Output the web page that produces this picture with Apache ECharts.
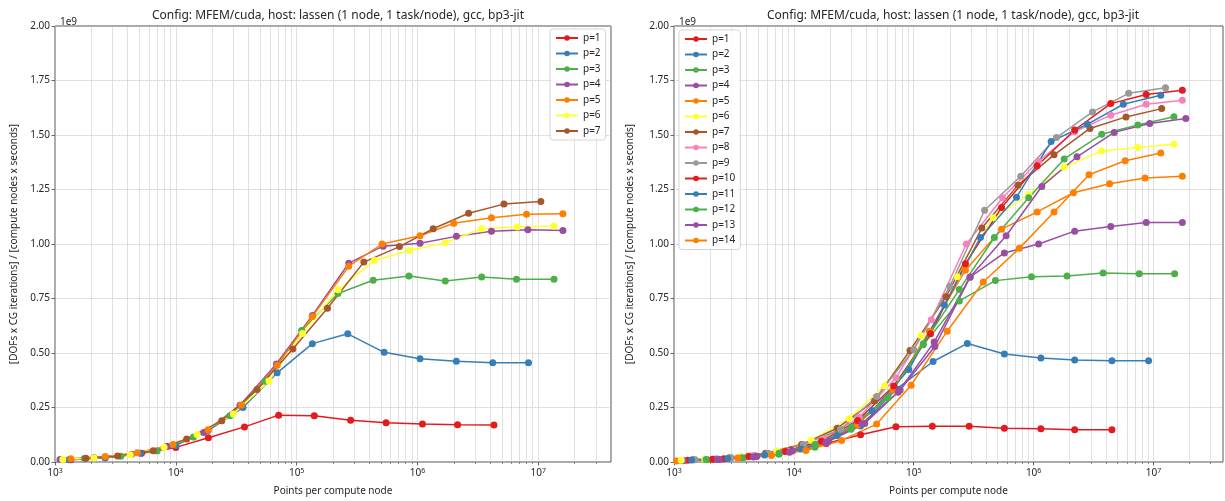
<!DOCTYPE html>
<html>
<head>
<meta charset="utf-8">
<script src="https://cdn.jsdelivr.net/npm/echarts@6/dist/echarts.min.js"></script>
<style>
  html, body { margin: 0; padding: 0; background: #fff; }
  #chart { width: 1225px; height: 501px; }
</style>
</head>
<body>
<div id="chart"></div>
<script>
// ---- data (y values in units of 1e9) ----
const titleText = 'Config: MFEM/cuda, host: lassen (1 node, 1 task/node), gcc, bp3-jit';
const orderNames = ['p=1', 'p=2', 'p=3', 'p=4', 'p=5', 'p=6', 'p=7', 'p=8', 'p=9', 'p=10', 'p=11', 'p=12', 'p=13', 'p=14'];
const palette = ['#e41a1c', '#377eb8', '#4daf4a', '#984ea3', '#ff7f00', '#ffff33', '#a65628', '#f781bf', '#999999'];

// left panel: p=1..7
const leftX = [
  [1350, 2600, 5200, 10000, 18600, 37000, 71000, 140000, 280000, 550000, 1100000, 2150000, 4300000],
  [1300, 2600, 5100, 10000, 18500, 36000, 69000, 135000, 265000, 530000, 1050000, 2100000, 4200000, 8300000],
  [1750, 3500, 7000, 14000, 28000, 55000, 110000, 220000, 430000, 850000, 1700000, 3400000, 6600000, 13500000],
  [1100, 2100, 4300, 8500, 17000, 34000, 68000, 135000, 270000, 520000, 1050000, 2100000, 4100000, 8200000, 16000000],
  [1350, 2600, 4800, 9500, 18500, 35000, 69000, 135000, 270000, 510000, 1050000, 2000000, 4100000, 8000000, 16000000],
  [1160, 2100, 4200, 8000, 15000, 30000, 59000, 112000, 220000, 440000, 860000, 1700000, 3400000, 6700000, 13500000],
  [1800, 3300, 6500, 12300, 24000, 47000, 93000, 180000, 360000, 710000, 1350000, 2650000, 5200000, 10500000]
];
const leftY = [
  [0.010, 0.020, 0.040, 0.067, 0.111, 0.161, 0.215, 0.212, 0.191, 0.180, 0.174, 0.171, 0.170],
  [0.010, 0.020, 0.040, 0.076, 0.144, 0.250, 0.409, 0.543, 0.588, 0.503, 0.474, 0.462, 0.455, 0.455],
  [0.016, 0.026, 0.050, 0.115, 0.212, 0.370, 0.603, 0.773, 0.834, 0.853, 0.830, 0.849, 0.838, 0.838],
  [0.012, 0.020, 0.036, 0.072, 0.135, 0.260, 0.450, 0.672, 0.912, 0.990, 1.003, 1.035, 1.058, 1.065, 1.062],
  [0.015, 0.025, 0.043, 0.080, 0.148, 0.262, 0.444, 0.667, 0.898, 1.000, 1.038, 1.095, 1.120, 1.136, 1.139],
  [0.012, 0.018, 0.033, 0.068, 0.126, 0.220, 0.371, 0.590, 0.790, 0.924, 0.970, 1.006, 1.070, 1.078, 1.082],
  [0.017, 0.027, 0.052, 0.106, 0.189, 0.333, 0.518, 0.705, 0.917, 0.988, 1.070, 1.141, 1.183, 1.195]
];

// right panel: p=1..14
const rightX = [
  [1300, 2600, 4800, 9400, 18600, 36000, 71000, 143000, 290000, 570000, 1150000, 2200000, 4500000],
  [1150, 2300, 4600, 9100, 18000, 36000, 72000, 145000, 280000, 570000, 1150000, 2200000, 4500000, 9100000],
  [1900, 3800, 7500, 15000, 30000, 61000, 120000, 240000, 480000, 960000, 1900000, 3800000, 7600000, 15000000],
  [1200, 2400, 4900, 9700, 19500, 39000, 77000, 150000, 295000, 570000, 1100000, 2200000, 4400000, 8700000, 17400000],
  [1050, 2100, 4200, 8400, 17000, 34000, 67000, 135000, 270000, 540000, 1070000, 2150000, 4300000, 8500000, 17400000],
  [1150, 1800, 3600, 7200, 14000, 29000, 57000, 115000, 230000, 460000, 910000, 1800000, 3700000, 7400000, 14800000],
  [1450, 2900, 5800, 11600, 23000, 47000, 93000, 186000, 370000, 740000, 1480000, 2950000, 5900000, 11700000],
  [2200, 4400, 8800, 17500, 35000, 71000, 140000, 275000, 550000, 1100000, 2200000, 4400000, 8700000, 17400000],
  [1500, 3000, 6100, 12000, 24500, 49000, 100000, 200000, 390000, 780000, 1550000, 3100000, 6200000, 12600000],
  [2100, 4200, 8500, 17000, 34000, 68000, 138000, 270000, 540000, 1070000, 2200000, 4400000, 8700000, 17400000],
  [1400, 2800, 5700, 11500, 23000, 45000, 91000, 180000, 360000, 720000, 1400000, 2800000, 5600000, 11500000],
  [1850, 3700, 7500, 15000, 30000, 60000, 120000, 240000, 470000, 910000, 1800000, 3700000, 7400000, 14800000],
  [2300, 4600, 9200, 18500, 37000, 74000, 148000, 295000, 590000, 1170000, 2300000, 4700000, 9300000, 18600000],
  [3400, 6500, 12600, 25000, 49000, 95000, 190000, 380000, 760000, 1480000, 2900000, 5800000, 11500000]
];
const rightY = [
  [0.008, 0.015, 0.027, 0.055, 0.085, 0.125, 0.162, 0.164, 0.164, 0.155, 0.152, 0.148, 0.148],
  [0.007, 0.014, 0.027, 0.052, 0.090, 0.165, 0.335, 0.461, 0.544, 0.495, 0.477, 0.468, 0.465, 0.464],
  [0.010, 0.020, 0.035, 0.068, 0.150, 0.295, 0.538, 0.739, 0.832, 0.850, 0.853, 0.867, 0.864, 0.864],
  [0.006, 0.012, 0.025, 0.050, 0.095, 0.177, 0.330, 0.530, 0.848, 0.959, 1.000, 1.059, 1.080, 1.099, 1.099],
  [0.005, 0.012, 0.026, 0.050, 0.090, 0.170, 0.330, 0.600, 0.880, 1.068, 1.147, 1.235, 1.276, 1.303, 1.311],
  [0.008, 0.014, 0.026, 0.050, 0.100, 0.200, 0.350, 0.580, 0.850, 1.120, 1.227, 1.352, 1.427, 1.443, 1.458],
  [0.010, 0.020, 0.040, 0.080, 0.155, 0.280, 0.512, 0.758, 1.073, 1.270, 1.409, 1.530, 1.583, 1.621],
  [0.014, 0.027, 0.050, 0.105, 0.205, 0.386, 0.652, 1.000, 1.212, 1.380, 1.515, 1.591, 1.641, 1.659],
  [0.010, 0.020, 0.040, 0.080, 0.150, 0.300, 0.515, 0.806, 1.155, 1.311, 1.488, 1.606, 1.691, 1.717],
  [0.013, 0.025, 0.048, 0.095, 0.190, 0.349, 0.588, 0.909, 1.167, 1.359, 1.523, 1.644, 1.686, 1.705],
  [0.009, 0.016, 0.032, 0.060, 0.120, 0.235, 0.424, 0.720, 1.030, 1.215, 1.470, 1.549, 1.641, 1.682],
  [0.011, 0.020, 0.040, 0.080, 0.160, 0.295, 0.543, 0.791, 1.030, 1.212, 1.390, 1.503, 1.546, 1.584],
  [0.012, 0.023, 0.045, 0.090, 0.175, 0.320, 0.550, 0.849, 1.038, 1.264, 1.400, 1.512, 1.553, 1.576],
  [0.018, 0.030, 0.053, 0.099, 0.174, 0.352, 0.600, 0.826, 0.980, 1.147, 1.318, 1.382, 1.417]
];

// axis ticks
const xMin = 1000;
const xMaxLeft = 4.0e7;
const xMaxRight = 3.8e7;
const decades = [1e3, 1e4, 1e5, 1e6, 1e7];
const minorSteps = [2, 3, 4, 5, 6, 7, 8, 9];

const FONT = 'Noto Sans';
const TXT = '#262626';
const GRIDLINE = { type: 'dotted', color: '#b4b4b4', width: 0.8 };

function minorValues (max) {
  const out = [];
  decades.forEach(d => minorSteps.forEach(m => { if (d * m < max) out.push(d * m); }));
  return out;
}

function powerLabel (v) {
  const k = Math.round(Math.log10(v));
  if (Math.abs(Math.pow(10, k) - v) / v > 1e-6) return '';
  return '{b|10}{s|' + k + '}';
}

function majorX (gridIndex, max) {
  return {
    type: 'log', logBase: 10, gridIndex, min: xMin, max,
    axisLine: { show: false },
    axisTick: { show: true, length: 3.5, lineStyle: { color: '#444', width: 0.8 } },
    axisLabel: {
      formatter: powerLabel, margin: 5, showMaxLabel: false,
      rich: {
        b: { fontSize: 10, color: TXT, fontFamily: FONT },
        s: { fontSize: 7, color: TXT, fontFamily: FONT, padding: [0, 0, 6, 0] }
      }
    },
    splitLine: { show: true, lineStyle: GRIDLINE },
    name: 'Points per compute node', nameLocation: 'middle', nameGap: 24,
    nameTextStyle: { fontSize: 10, color: TXT, fontFamily: FONT }
  };
}

function minorX (gridIndex, max) {
  return {
    type: 'log', logBase: 10, gridIndex, min: xMin, max, position: 'bottom',
    axisLine: { show: false },
    axisLabel: { show: false },
    axisTick: { show: true, length: 2, customValues: minorValues(max), lineStyle: { color: '#444', width: 0.6 } },
    splitLine: { show: true, lineStyle: GRIDLINE }
  };
}

function yAxisFor (gridIndex, gap) {
  return {
    type: 'value', gridIndex, min: 0, max: 2, interval: 0.25,
    axisLine: { show: false },
    axisTick: { show: true, length: 3.5, lineStyle: { color: '#444', width: 0.8 } },
    axisLabel: { formatter: v => v.toFixed(2), fontSize: 10, color: TXT, fontFamily: FONT, margin: 5 },
    splitLine: { show: true, lineStyle: GRIDLINE },
    name: '[DOFs x CG iterations] / [compute nodes x seconds]',
    nameLocation: 'middle', nameGap: gap,
    nameTextStyle: { fontSize: 10, color: TXT, fontFamily: FONT }
  };
}

function makeSeries (xs, ys, xAxisIndex, yAxisIndex) {
  return xs.map((xv, i) => {
    const color = palette[i % palette.length];
    return {
      type: 'line', name: orderNames[i], xAxisIndex, yAxisIndex,
      data: xv.map((v, j) => [v, ys[i][j]]),
      symbol: 'circle', symbolSize: 7,
      lineStyle: { width: 1.5, color },
      itemStyle: { color },
      emphasis: { disabled: true },
      z: 3
    };
  });
}

function legendFor (names, left, top) {
  return {
    data: names, orient: 'vertical', left, top,
    itemWidth: 22, itemHeight: 7, itemGap: 5.5,
    padding: [4, 5, 4, 5],
    backgroundColor: 'rgba(255,255,255,0.85)',
    borderColor: '#d5d5d5', borderWidth: 1, borderRadius: 3,
    textStyle: { fontSize: 10, color: TXT, fontFamily: FONT, lineHeight: 10 }
  };
}

const chart = echarts.init(document.getElementById('chart'), null, { renderer: 'canvas' });

const option = {
  animation: false,
  textStyle: { fontFamily: FONT },
  title: [
    { text: titleText, left: 333, top: 5, textAlign: 'center', textStyle: { fontSize: 12, fontWeight: 'normal', color: TXT, fontFamily: FONT } },
    { text: titleText, left: 948, top: 5, textAlign: 'center', textStyle: { fontSize: 12, fontWeight: 'normal', color: TXT, fontFamily: FONT } },
    { text: '1e9', left: 55, top: 12, textStyle: { fontSize: 10, fontWeight: 'normal', color: TXT, fontFamily: FONT } },
    { text: '1e9', left: 674, top: 12, textStyle: { fontSize: 10, fontWeight: 'normal', color: TXT, fontFamily: FONT } }
  ],
  grid: [
    { left: 55, top: 26, width: 556, height: 441, show: true, borderColor: '#555', borderWidth: 1, containLabel: false },
    { left: 674, top: 26, width: 549, height: 441, show: true, borderColor: '#555', borderWidth: 1, containLabel: false }
  ],
  xAxis: [majorX(0, xMaxLeft), minorX(0, xMaxLeft), majorX(1, xMaxRight), minorX(1, xMaxRight)],
  yAxis: [yAxisFor(0, 36), yAxisFor(1, 39)],
  legend: [
    legendFor(orderNames.slice(0, 7), 550, 29),
    legendFor(orderNames, 679, 30)
  ],
  series: [
    ...makeSeries(leftX, leftY, 0, 0),
    ...makeSeries(rightX, rightY, 2, 1)
  ]
};

chart.setOption(option);
</script>
</body>
</html>
